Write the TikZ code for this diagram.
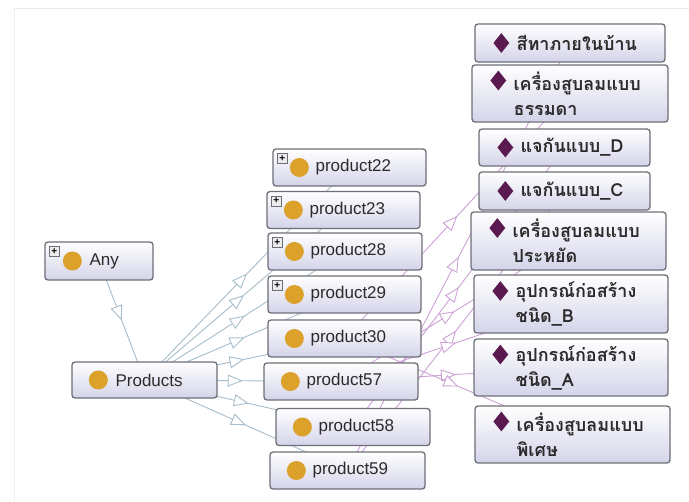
\documentclass[tikz,border=0pt]{standalone}
\usepackage{fontspec}
\setmainfont{Liberation Sans}
\newfontfamily\thaifont[Script=Thai]{Loma}
\usepackage{tikz}
\usetikzlibrary{arrows.meta}
\usetikzlibrary{decorations.markings}
\usetikzlibrary{backgrounds}
\usetikzlibrary{shapes.geometric}
\definecolor{boxline}{HTML}{6E6E78}
\definecolor{boxlow}{HTML}{D4D4EA}
\definecolor{clsorange}{HTML}{DBA12B}
\definecolor{indpurple}{HTML}{5A1A50}
\definecolor{isaedge}{HTML}{A6BDCB}
\definecolor{typeedge}{HTML}{CDA2D6}
\definecolor{labeltext}{HTML}{2B2B2B}
\tikzset{
ogbox/.style={
  rectangle,
  rounded corners=3pt,
  draw=boxline,
  line width=1.3pt,
  top color=white,
  bottom color=boxlow,
  inner sep=0pt
},
clsmark/.style={circle,fill=clsorange,minimum size=19pt,inner sep=0pt},
indmark/.style={diamond,fill=indpurple,minimum width=16pt,minimum height=20pt,inner sep=0pt},
plusbox/.style={rectangle,draw=boxline,fill=gray!15,line width=0.6pt,
  minimum size=10pt,inner sep=0pt,font=\fontsize{10}{10}\selectfont\bfseries},
clslabel/.style={anchor=west,inner sep=0pt,text=labeltext,font=\fontsize{17}{20}\selectfont},
indlabel/.style={anchor=west,inner sep=0pt,text=labeltext,align=left,
  font=\thaifont\bfseries\fontsize{18}{25}\selectfont},
isa/.style={
  draw=isaedge,line width=0.9pt,postaction={decorate},
  decoration={markings,mark=at position 0.5 with
    {\arrow{Triangle[length=15pt,width=12pt,fill=white]}}}
},
typeof/.style={
  draw=typeedge,line width=0.9pt,postaction={decorate},
  decoration={markings,mark=at position 0.5 with
    {\arrow{Triangle[length=15pt,width=12pt,fill=white]}}}
},
}

\begin{document}
\begin{tikzpicture}[x=1pt,y=-1pt]
\useasboundingbox (0,0) rectangle (689,502);

% classes
\node[ogbox,minimum width=108pt,minimum height=38pt] (any) at (99,261) {};
\node[clsmark] (any-dot) at ([xshift=28pt]any.west) {};
\node[clslabel] (any-txt) at ([xshift=45pt]any.west) {Any};
\node[plusbox] (any-plus) at ([xshift=10pt,yshift=-10pt]any.north west) {+};

\node[ogbox,minimum width=145pt,minimum height=36pt] (products) at (144.5,380) {};
\node[clsmark] (products-dot) at ([xshift=27pt]products.west) {};
\node[clslabel] (products-txt) at ([xshift=44pt]products.west) {Products};

\foreach \nm/\cx/\cy/\bw/\pl in {22/349.5/167.5/153/1,23/343.5/210/153/1,
  28/345/251.5/154/1,29/344.5/294.5/153/1,30/344.5/338.5/153/0,
  57/341/381.5/154/0,58/353/427/154/0,59/347.5/470.5/155/0}
{
  \node[ogbox,minimum width=\bw pt,minimum height=37pt] (prod\nm) at (\cx,\cy) {};
  \node[clsmark] (prod\nm-dot) at ([xshift=27pt]prod\nm.west) {};
  \node[clslabel] (prod\nm-txt) at ([xshift=43pt]prod\nm.west) {product\nm};
  \ifnum\pl=1
    \node[plusbox] (prod\nm-plus) at ([xshift=10pt,yshift=-10pt]prod\nm.north west) {+};
  \fi
}

% individuals
\foreach \nm/\cx/\cy/\bw/\bh/\dd/\txt in {
  paint/570/43/190/38/0/สีทาภายในบ้าน,
  pumpnorm/570/93.5/196/57/13/เครื่องสูบลมแบบ\\ธรรมดา,
  vaseD/564.5/147.5/171/37/0/แจกันแบบ\_D,
  vaseC/564.5/191/171/38/0/แจกันแบบ\_C,
  pumpeco/568.5/241/195/58/13/เครื่องสูบลมแบบ\\ประหยัด,
  toolB/571/304/194/58/13/อุปกรณ์ก่อสร้าง\\ชนิด\_B,
  toolA/571/367.5/194/57/13/อุปกรณ์ก่อสร้าง\\ชนิด\_A,
  pumpspec/572.5/434.5/195/57/13/เครื่องสูบลมแบบ\\พิเศษ}
{
  \node[ogbox,minimum width=\bw pt,minimum height=\bh pt] (\nm) at (\cx,\cy) {};
  \node[indmark] (\nm-dia) at ([xshift=27pt,yshift=\dd pt]\nm.west) {};
  \node[indlabel] (\nm-txt) at ([xshift=42pt]\nm.west) {\txt};
}

% the edges, behind the boxes
\begin{scope}[on background layer]
\fill[white] (0,0) rectangle (689,502);
\draw[gray!18,line width=1pt] (14,9) -- (689,9);
\draw[gray!12,line width=1pt] (14,9) -- (14,502);
\draw[isa] (any.center) -- (products.center);
\foreach \nm in {22,23,28,29,30,57,58,59}
  \draw[isa] (products.center) -- (prod\nm.center);
\draw[typeof] (prod59.center) -- (paint.center);
\draw[typeof] (prod30.center) -- (pumpnorm.center);
\draw[typeof] (prod58.center) -- (vaseD.center);
\draw[typeof] (prod59.center) -- (vaseC.center);
\draw[typeof] (prod57.center) -- (pumpeco.center);
\draw[typeof] (prod57.center) -- (toolB.center);
\draw[typeof] (prod57.center) -- (toolA.center);
\draw[typeof] (prod30.center) -- (pumpspec.center);
\end{scope}
\end{tikzpicture}
\end{document}
